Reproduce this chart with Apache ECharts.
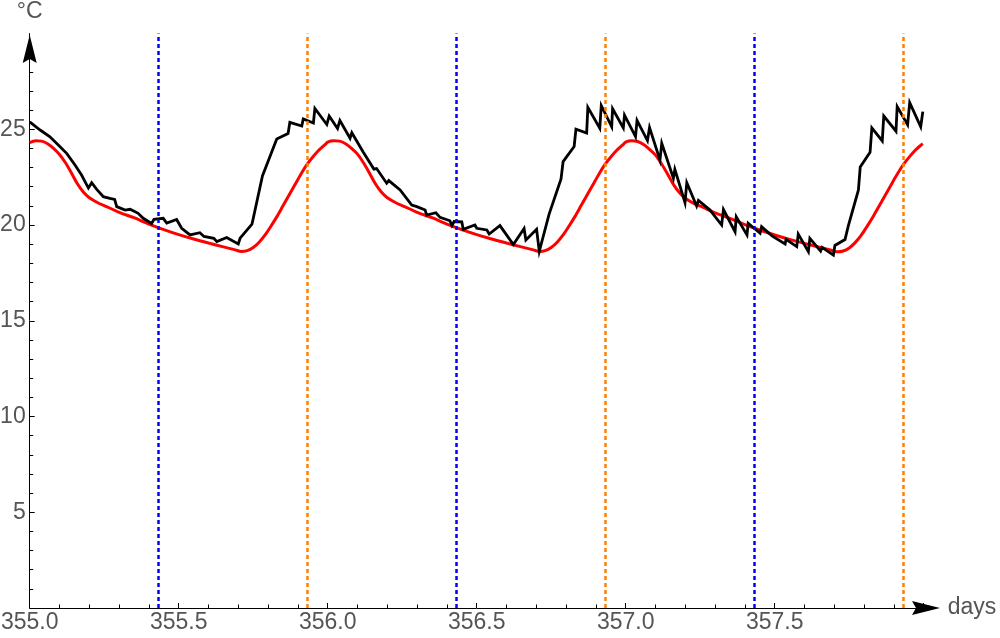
<!DOCTYPE html>
<html><head><meta charset="utf-8">
<script src="https://cdn.jsdelivr.net/npm/echarts@6/dist/echarts.min.js"></script>
<style>html,body{margin:0;padding:0;background:#fff}#c{width:1000px;height:638px}</style>
</head><body><div id="c"></div>
<script>
// measured temperature (black)
const blackDays = [355.000,355.035,355.068,355.096,355.124,355.152,355.174,355.197,355.208,355.225,
355.247,355.269,355.285,355.292,355.320,355.337,355.364,355.381,355.409,355.417,
355.448,355.460,355.493,355.510,355.538,355.571,355.585,355.618,355.628,355.661,
355.700,355.706,355.746,355.781,355.786,355.829,355.867,355.873,355.913,355.918,
355.952,355.957,355.997,356.005,356.033,356.041,356.075,356.081,356.119,356.125,
356.155,356.164,356.198,356.205,356.243,356.282,356.299,356.327,356.332,356.363,
356.377,356.410,356.417,356.424,356.450,356.455,356.494,356.500,356.534,356.542,
356.578,356.623,356.659,356.665,356.701,356.710,356.743,356.749,356.783,356.790,
356.827,356.833,356.869,356.873,356.913,356.918,356.953,356.956,356.992,356.996,
357.033,357.038,357.073,357.080,357.115,357.121,357.160,357.165,357.199,357.205,
357.238,357.244,357.283,357.322,357.328,357.367,357.371,357.407,357.411,357.451,
357.456,357.491,357.535,357.538,357.574,357.579,357.613,357.618,357.654,357.659,
357.697,357.702,357.736,357.747,357.781,357.787,357.820,357.826,357.861,357.866,
357.907,357.911,357.946,357.953,357.990,357.997];
const blackTemps = [25.39,24.96,24.61,24.18,23.74,23.13,22.61,21.93,22.21,21.86,
21.48,21.39,21.34,20.96,20.78,20.82,20.61,20.35,20.08,20.30,
20.35,20.10,20.29,19.83,19.48,19.60,19.40,19.30,19.13,19.35,
19.01,19.31,20.05,22.56,22.61,24.49,24.78,25.36,25.17,25.54,
25.33,26.09,25.25,25.69,25.04,25.46,24.53,24.82,23.81,23.89,
22.92,22.95,22.18,22.32,21.83,21.04,20.96,20.78,20.52,20.64,
20.40,20.22,19.97,20.18,20.16,19.77,20.00,19.83,19.74,19.53,
19.97,18.98,19.82,19.22,19.78,18.62,20.57,20.60,22.40,23.31,
24.10,25.00,24.80,26.14,25.05,26.24,25.13,26.07,25.07,25.74,
24.62,25.46,24.41,25.09,23.39,24.27,22.44,22.91,21.17,22.21,
20.99,21.28,20.78,20.00,20.81,19.65,20.43,19.48,20.09,19.57,
19.91,19.43,19.01,19.25,18.87,19.53,18.61,19.30,18.64,18.83,
18.43,18.93,19.24,19.95,21.83,23.03,23.80,25.07,24.39,25.69,
24.90,26.18,25.24,26.39,25.13,25.92];

// model temperature (red)
const redDays = [
355.00,355.02,355.04,355.06,355.08,355.10,355.12,355.14,355.16,355.18,355.20,355.23,355.26,355.30,355.35,355.40,355.45,355.50,355.55,355.60,355.65,355.69,355.71,355.73,355.75,355.77,355.79,355.81,355.83,355.85,355.87,355.89,355.91,355.93,355.95,355.97,355.99,
356.00,356.02,356.04,356.06,356.08,356.10,356.12,356.14,356.16,356.18,356.20,356.23,356.26,356.30,356.35,356.40,356.45,356.50,356.55,356.60,356.65,356.69,356.71,356.73,356.75,356.77,356.79,356.81,356.83,356.85,356.87,356.89,356.91,356.93,356.95,356.97,356.99,
357.00,357.02,357.04,357.06,357.08,357.10,357.12,357.14,357.16,357.18,357.20,357.23,357.26,357.30,357.35,357.40,357.45,357.50,357.55,357.60,357.65,357.69,357.71,357.73,357.75,357.77,357.79,357.81,357.83,357.85,357.87,357.89,357.91,357.93,357.95,357.97,357.99,357.997];
const redTemps = [
24.30,24.40,24.38,24.24,24.00,23.68,23.25,22.72,22.15,21.72,21.42,21.15,20.95,20.66,20.38,20.05,19.76,19.50,19.27,19.06,18.86,18.70,18.62,18.66,18.82,19.10,19.48,19.95,20.45,21.00,21.55,22.10,22.65,23.15,23.55,23.90,24.18,
24.33,24.40,24.38,24.24,24.00,23.70,23.25,22.72,22.15,21.72,21.42,21.15,20.95,20.66,20.38,20.05,19.76,19.50,19.27,19.06,18.86,18.70,18.62,18.66,18.82,19.10,19.48,19.95,20.45,21.00,21.55,22.10,22.65,23.15,23.55,23.90,24.18,
24.33,24.40,24.36,24.20,23.95,23.65,23.20,22.68,22.12,21.70,21.40,21.12,20.92,20.63,20.35,20.02,19.74,19.48,19.25,19.04,18.84,18.68,18.60,18.64,18.80,19.08,19.46,19.93,20.43,20.98,21.53,22.08,22.62,23.12,23.52,23.88,24.16,24.24];

// vertical markers
const blueLineDays = [355.430, 356.428, 357.425];
const orangeLineDays = [355.928, 356.927, 357.925];

const FONT = '"Liberation Sans", Arial, sans-serif';
const LABEL = '#555555';
const ARROW = 'path://M0,0 L7,28 L0,24 L-7,28 Z';

const chart = echarts.init(document.getElementById('c'), null, {renderer: 'canvas'});
const blackData = blackDays.map((d, i) => [d, blackTemps[i]]);
const redData = redDays.map((d, i) => [d, redTemps[i]]);

function vline(name, days, color) {
  return {
    name: name, type: 'line', data: [], silent: true, z: 5,
    markLine: {
      silent: true, animation: false, symbol: ['none', 'none'],
      label: {show: false}, emphasis: {disabled: true},
      lineStyle: {color: color, width: 2.5, type: [4, 3]},
      data: days.map(d => ({xAxis: d}))
    }
  };
}

chart.setOption({
  animation: false,
  backgroundColor: '#ffffff',
  grid: {left: 29.7, right: 76.3, top: 33.5, bottom: 30, containLabel: false, outerBoundsMode: 'none'},
  xAxis: {
    type: 'value', min: 355, max: 358, interval: 0.5,
    name: 'days', nameLocation: 'end', nameGap: 24,
    nameTextStyle: {color: LABEL, fontSize: 23, fontFamily: FONT, verticalAlign: 'middle'},
    axisLine: {show: true, onZero: false, lineStyle: {color: '#000', width: 1},
      symbol: ['none', ARROW], symbolSize: [14, 28], symbolOffset: [0, 2.3]},
    axisTick: {show: true, inside: true, length: 5, lineStyle: {color: '#000', width: 1}},
    minorTick: {show: true, splitNumber: 5, length: 3.5, lineStyle: {color: '#000', width: 1}},
    axisLabel: {color: LABEL, fontSize: 23, fontFamily: FONT, margin: 3, verticalAlign: 'top',
      formatter: v => (v > 357.99 ? '' : v.toFixed(1))},
    splitLine: {show: false}
  },
  yAxis: {
    type: 'value', min: 0, max: 30, interval: 5,
    name: '°C', nameLocation: 'end', nameGap: 10,
    nameTextStyle: {color: LABEL, fontSize: 23, fontFamily: FONT},
    axisLine: {show: true, onZero: false, lineStyle: {color: '#000', width: 1},
      symbol: ['none', ARROW], symbolSize: [14, 28], symbolOffset: [0, -15.5]},
    axisTick: {show: true, inside: true, length: 5, lineStyle: {color: '#000', width: 1},
      customValues: [5, 10, 15, 20, 25]},
    minorTick: {show: true, splitNumber: 5, length: 3.5, lineStyle: {color: '#000', width: 1}},
    axisLabel: {color: LABEL, fontSize: 23, fontFamily: FONT, margin: 4,
      formatter: v => ((v <= 0 || v > 25) ? '' : String(v))},
    splitLine: {show: false}
  },
  series: [
    {name: 'model', type: 'line', data: redData, showSymbol: false, smooth: 0.3, z: 2,
      lineStyle: {color: '#ff0000', width: 3}, silent: true},
    {name: 'measured', type: 'line', data: blackData, showSymbol: false, z: 3,
      lineStyle: {color: '#000000', width: 2.8, join: 'miter'}, silent: true},
    vline('blue', blueLineDays, '#0000ff'),
    vline('orange', orangeLineDays, '#ff8000')
  ]
});
</script></body></html>
